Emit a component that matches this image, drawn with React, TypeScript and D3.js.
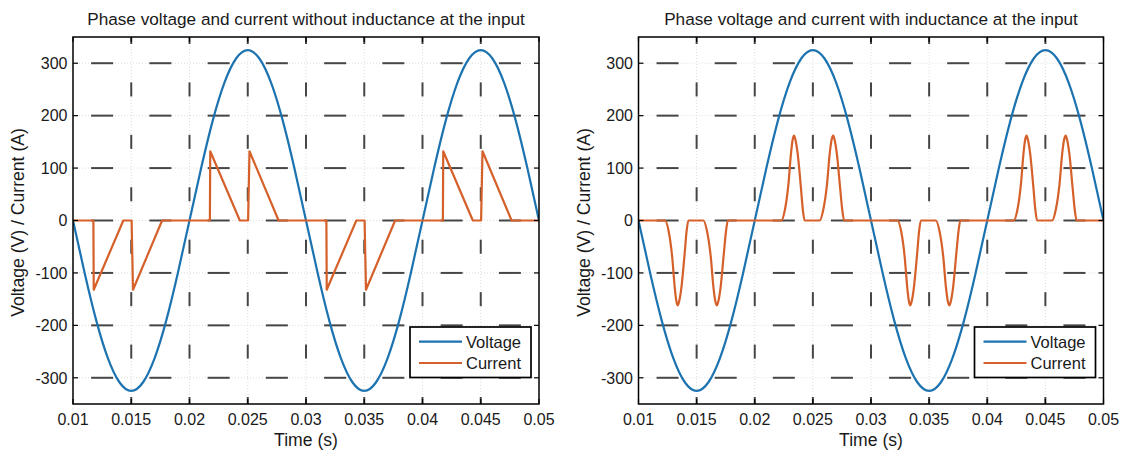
import React from "react";
import * as d3 from "d3";

// ---------- data ----------
const xTicks = [0.01, 0.015, 0.02, 0.025, 0.03, 0.035, 0.04, 0.045, 0.05];
const xTickLabels = ["0.01", "0.015", "0.02", "0.025", "0.03", "0.035", "0.04", "0.045", "0.05"];
const yTicks = [-300, -200, -100, 0, 100, 200, 300];
const yTickLabels = ["-300", "-200", "-100", "0", "100", "200", "300"];

const titles = [
  "Phase voltage and current without inductance at the input",
  "Phase voltage and current with inductance at the input",
];
const seriesNames = ["Voltage", "Current"];

const voltageTime = [
  0.01, 0.011, 0.012, 0.013, 0.014, 0.015, 0.016, 0.017, 0.018, 0.019,
  0.02, 0.021, 0.022, 0.023, 0.024, 0.025, 0.026, 0.027, 0.028, 0.029,
  0.03, 0.031, 0.032, 0.033, 0.034, 0.035, 0.036, 0.037, 0.038, 0.039,
  0.04, 0.041, 0.042, 0.043, 0.044, 0.045, 0.046, 0.047, 0.048, 0.049, 0.05,
];
const voltageValue = [
  0, -100, -191, -263, -309, -325, -309, -263, -191, -100,
  0, 100, 191, 263, 309, 325, 309, 263, 191, 100,
  0, -100, -191, -263, -309, -325, -309, -263, -191, -100,
  0, 100, 191, 263, 309, 325, 309, 263, 191, 100, 0,
];

// Current without inductance (piecewise linear)
const currentNoLTime = [
  0.01, 0.01175, 0.01178, 0.01432, 0.01503, 0.01515, 0.01765,
  0.02175, 0.02178, 0.02432, 0.02503, 0.02515, 0.02765,
  0.03175, 0.03178, 0.03432, 0.03503, 0.03515, 0.03765,
  0.04175, 0.04178, 0.04432, 0.04503, 0.04515, 0.04765, 0.05,
];
const currentNoLValue = [
  0, 0, -132, 0, 0, -132, 0,
  0, 132, 0, 0, 132, 0,
  0, -132, 0, 0, -132, 0,
  0, 132, 0, 0, 132, 0, 0,
];

// Current with inductance (smooth pulses)
const currentLTime = [
  0.01,
  0.01228, 0.01259, 0.0129, 0.01311, 0.01326, 0.01338, 0.0135, 0.0137, 0.01397, 0.01414, 0.01429,
  0.01558, 0.01589, 0.01622, 0.01644, 0.01661, 0.01675, 0.01687, 0.01707, 0.01734, 0.01753, 0.01769,
  0.02228, 0.02259, 0.0229, 0.02311, 0.02326, 0.02338, 0.0235, 0.0237, 0.02397, 0.02414, 0.02429,
  0.02558, 0.02589, 0.02622, 0.02644, 0.02661, 0.02675, 0.02687, 0.02707, 0.02734, 0.02753, 0.02769,
  0.03228, 0.03259, 0.0329, 0.03311, 0.03326, 0.03338, 0.0335, 0.0337, 0.03397, 0.03414, 0.03429,
  0.03558, 0.03589, 0.03622, 0.03644, 0.03661, 0.03675, 0.03687, 0.03707, 0.03734, 0.03753, 0.03769,
  0.04228, 0.04259, 0.0429, 0.04311, 0.04326, 0.04338, 0.0435, 0.0437, 0.04397, 0.04414, 0.04429,
  0.04558, 0.04589, 0.04622, 0.04644, 0.04661, 0.04675, 0.04687, 0.04707, 0.04734, 0.04753, 0.04769,
  0.05,
];
const currentLValue = [
  0,
  0, -20, -70, -126, -154, -162, -154, -126, -63, -20, 0,
  0, -20, -70, -126, -154, -162, -154, -126, -63, -20, 0,
  0, 20, 70, 126, 154, 162, 154, 126, 63, 20, 0,
  0, 20, 70, 126, 154, 162, 154, 126, 63, 20, 0,
  0, -20, -70, -126, -154, -162, -154, -126, -63, -20, 0,
  0, -20, -70, -126, -154, -162, -154, -126, -63, -20, 0,
  0, 20, 70, 126, 154, 162, 154, 126, 63, 20, 0,
  0, 20, 70, 126, 154, 162, 154, 126, 63, 20, 0,
  0,
];

// ---------- style ----------
const FONT = "'Liberation Sans', Arial, Helvetica, sans-serif";
const VOLT_COLOR = "#1c73b0";
const CURR_COLOR = "#d5602a";
const TOP = 37;
const BOTTOM = 404;

type PanelProps = {
  x0: number;
  x1: number;
  title: string;
  cTime: number[];
  cValue: number[];
  smooth: boolean;
  id: string;
};

function Panel({ x0, x1, title, cTime, cValue, smooth, id }: PanelProps) {
  const x = d3.scaleLinear().domain([0.01, 0.05]).range([x0, x1]);
  const y = d3.scaleLinear().domain([-350, 350]).range([BOTTOM, TOP]);

  const vPts: [number, number][] = voltageTime.map((t, i) => [t, voltageValue[i]]);
  const cPts: [number, number][] = cTime.map((t, i) => [t, cValue[i]]);

  const vLine = d3
    .line<[number, number]>()
    .x((d) => x(d[0]))
    .y((d) => y(d[1]))
    .curve(d3.curveNatural);
  const cLine = d3
    .line<[number, number]>()
    .x((d) => x(d[0]))
    .y((d) => y(d[1]))
    .curve(smooth ? d3.curveMonotoneX : d3.curveLinear);

  // grid dash centres
  const xMid = xTicks.slice(0, -1).map((t, i) => (t + xTicks[i + 1]) / 2);
  const yMid = [-350, ...yTicks.map((v) => v + 50)];
  const innerX = xTicks.slice(1, -1);

  const legW = 121;
  const legH = 50.5;
  const legX = x1 - 8 - legW;
  const legY = 327;

  const tickLen = 5;

  return (
    <g>
      <defs>
        <clipPath id={id}>
          <rect x={x0} y={TOP} width={x1 - x0} height={BOTTOM - TOP} />
        </clipPath>
      </defs>
      <rect x={x0} y={TOP} width={x1 - x0} height={BOTTOM - TOP} fill="#fff" />
      {/* dotted grid */}
      <g stroke="#dcdcdc" strokeWidth={1} strokeDasharray="1 2">
        {innerX.map((t) => (
          <line key={"gx" + t} x1={x(t)} x2={x(t)} y1={TOP} y2={BOTTOM} />
        ))}
        {yTicks.map((v) => (
          <line key={"gy" + v} x1={x0} x2={x1} y1={y(v)} y2={y(v)} />
        ))}
      </g>
      {/* dark dash artefacts of the grid */}
      <g stroke="#1a1a1a" strokeWidth={2} clipPath={`url(#${id})`} opacity={0.8}>
        {yTicks.map((v) =>
          xMid.map((t) => (
            <line
              key={"dh" + v + "_" + t}
              x1={x(t) - 11}
              x2={x(t) + 11}
              y1={y(v)}
              y2={y(v)}
            />
          ))
        )}
        {innerX.map((t) =>
          yMid.map((v) => (
            <line
              key={"dv" + t + "_" + v}
              x1={x(t)}
              x2={x(t)}
              y1={y(v) - 7}
              y2={y(v) + 7}
            />
          ))
        )}
      </g>
      {/* data */}
      <g clipPath={`url(#${id})`} fill="none" strokeLinejoin="round">
        <path d={vLine(vPts) || ""} stroke={VOLT_COLOR} strokeWidth={2.2} />
        <path d={cLine(cPts) || ""} stroke={CURR_COLOR} strokeWidth={2.2} />
      </g>
      {/* box */}
      <rect
        x={x0}
        y={TOP}
        width={x1 - x0}
        height={BOTTOM - TOP}
        fill="none"
        stroke="#000"
        strokeWidth={1.5}
      />
      {/* ticks */}
      <g stroke="#000" strokeWidth={1.2}>
        {xTicks.map((t) => (
          <g key={"tx" + t}>
            <line x1={x(t)} x2={x(t)} y1={BOTTOM} y2={BOTTOM - tickLen} />
            <line x1={x(t)} x2={x(t)} y1={TOP} y2={TOP + tickLen} />
          </g>
        ))}
        {yTicks.map((v) => (
          <g key={"ty" + v}>
            <line x1={x0} x2={x0 + tickLen} y1={y(v)} y2={y(v)} />
            <line x1={x1} x2={x1 - tickLen} y1={y(v)} y2={y(v)} />
          </g>
        ))}
      </g>
      {/* tick labels */}
      <g fontFamily={FONT} fontSize={16} fill="#1a1a1a">
        {xTicks.map((t, i) => (
          <text key={"lx" + t} x={x(t)} y={425} textAnchor="middle">
            {xTickLabels[i]}
          </text>
        ))}
        {yTicks.map((v, i) => (
          <text key={"ly" + v} x={x0 - 5.5} y={y(v)} dy="0.36em" textAnchor="end">
            {yTickLabels[i]}
          </text>
        ))}
      </g>
      {/* labels */}
      <text
        x={(x0 + x1) / 2}
        y={25}
        textAnchor="middle"
        fontFamily={FONT}
        fontSize={17.2}
        fill="#1a1a1a"
      >
        {title}
      </text>
      <text
        x={(x0 + x1) / 2}
        y={446}
        textAnchor="middle"
        fontFamily={FONT}
        fontSize={17.6}
        fill="#1a1a1a"
      >
        Time (s)
      </text>
      <text
        transform={`translate(${x0 - 49},${(TOP + BOTTOM) / 2 + 2}) rotate(-90)`}
        textAnchor="middle"
        fontFamily={FONT}
        fontSize={17.6}
        fill="#1a1a1a"
      >
        Voltage (V) / Current (A)
      </text>
      {/* legend */}
      <g>
        <rect
          x={legX}
          y={legY}
          width={legW}
          height={legH}
          fill="#fff"
          stroke="#000"
          strokeWidth={1.7}
        />
        {seriesNames.map((name, i) => {
          const ly = legY + 14.7 + i * 21.3;
          return (
            <g key={name}>
              <line
                x1={legX + 9}
                x2={legX + 52}
                y1={ly}
                y2={ly}
                stroke={i === 0 ? VOLT_COLOR : CURR_COLOR}
                strokeWidth={2.2}
              />
              <text
                x={legX + 56}
                y={ly}
                dy="0.36em"
                fontFamily={FONT}
                fontSize={16.5}
                fill="#1a1a1a"
              >
                {name}
              </text>
            </g>
          );
        })}
      </g>
    </g>
  );
}

export default function App() {
  return (
    <svg
      width={1131}
      height={450}
      viewBox="0 0 1131 450"
      style={{ position: "absolute", left: 0, top: 0, background: "#fff" }}
    >
      <rect x={0} y={0} width={1131} height={450} fill="#fff" />
      <Panel
        x0={73}
        x1={539}
        title={titles[0]}
        cTime={currentNoLTime}
        cValue={currentNoLValue}
        smooth={false}
        id="clipL"
      />
      <Panel
        x0={638.5}
        x1={1103.5}
        title={titles[1]}
        cTime={currentLTime}
        cValue={currentLValue}
        smooth={true}
        id="clipR"
      />
    </svg>
  );
}
